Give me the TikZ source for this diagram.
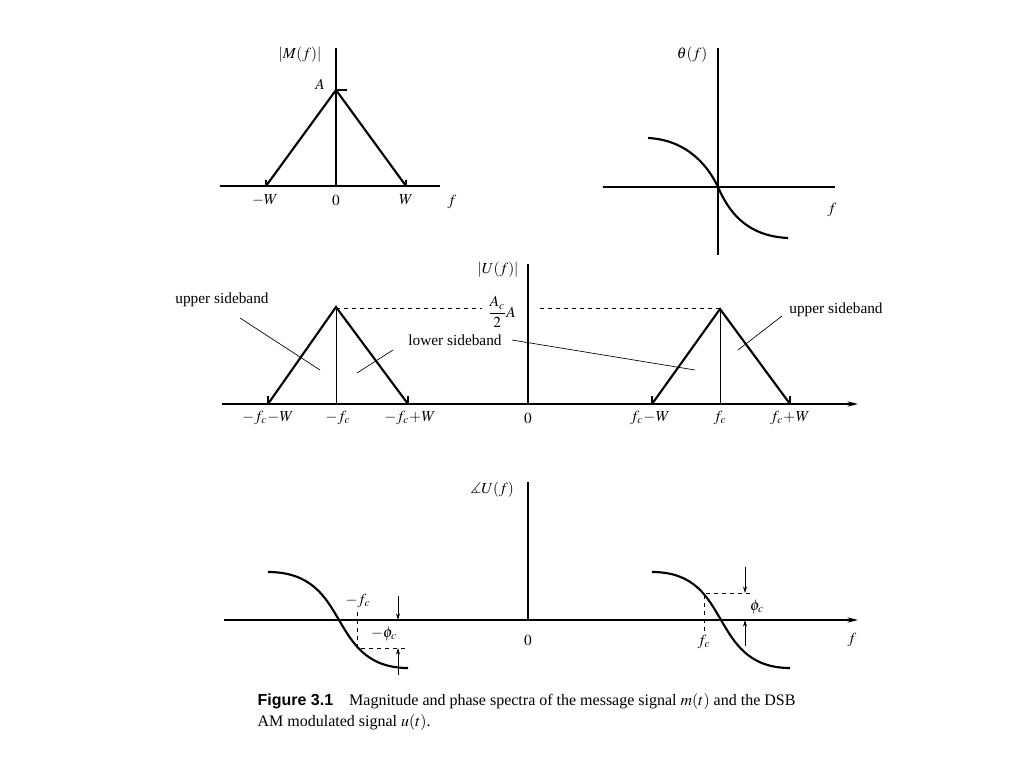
\documentclass[tikz,border=0pt]{standalone}
\usepackage{amsmath}
\usepackage{mathptmx}
\usepackage{amssymb}
\usepackage{fontspec}
\setmainfont{Liberation Serif}
\usetikzlibrary{arrows.meta}
\begin{document}
\begin{tikzpicture}[x=0.75pt,y=-0.75pt,
  ax/.style={line width=0.8pt},
  thick2/.style={line width=1.6pt},
  ds/.style={dashed,line width=0.6pt},
  ld/.style={line width=0.5pt},
  lb/.style={font=\fontsize{11.5}{13}\selectfont,inner sep=1pt},
  cp/.style={font=\fontsize{12}{14}\selectfont,inner sep=1pt},
  arr/.style={line width=0.6pt,-{Stealth[length=5pt,width=3pt]}}]
\useasboundingbox (0,0) rectangle (1024,768);
% top left
\draw[ax] (220,186) -- (440,186);
\draw[ax] (336,48) -- (336,186);
\draw[thick2] (266,186) -- (336,90) -- (406,186);
\draw[ax] (336,90) -- (347,90);
\draw[ax] (266,180) -- (266,186) (406,180) -- (406,186);
\node[lb] (M) at (300,55) {$|M(f)|$};
\node[lb] (A) at (320,84) {$A$};
\node[lb] at (265,200) {$-W$};
\node[lb] at (336,200) {$0$};
\node[lb] at (406,200) {$W$};
\node[lb] at (452,202) {$f$};
% top right
\draw[ax] (603,187) -- (835,187);
\draw[ax] (718,48) -- (718,255);
\draw[thick2] (648,138) .. controls (690,140) and (710,170) .. (718,187) .. controls (728,210) and (745,236) .. (788,238);
\node[lb] at (692,55) {$\theta(f)$};
\node[lb] at (832,210) {$f$};
% middle
\draw[ax,-{Stealth[length=8pt,width=4pt]}] (222,404) -- (858,404);
\draw[ax] (528,264) -- (528,404);
\draw[thick2] (268,404) -- (336,307) -- (408,404);
\draw[thick2] (652,404) -- (720,309) -- (790,404);
\draw[ld] (336,307) -- (336,404) (720,309) -- (720,404);
\draw[ax] (268,396)--(268,404) (408,396)--(408,404) (652,396)--(652,404) (790,396)--(790,404);
\draw[ds] (336,308) -- (482,308) (540,308) -- (720,308);
\node[lb] at (502,312) {$\dfrac{A_c}{2}A$};
\node[lb] at (498,270) {$|U(f)|$};
\node[lb] at (268,418) {$-f_c\!-\!W$};
\node[lb] at (338,418) {$-f_c$};
\node[lb] at (410,418) {$-f_c\!+\!W$};
\node[lb] at (528,418) {$0$};
\node[lb] at (650,418) {$f_c\!-\!W$};
\node[lb] at (720,418) {$f_c$};
\node[lb] at (790,418) {$f_c\!+\!W$};
\node[lb] (us1) at (222,300) {upper sideband};
\node[lb] (ls) at (455,340) {lower sideband};
\node[lb] (us2) at (836,310) {upper sideband};
\draw[ld] (240,318) -- (320,370);
\draw[ld] (357,373) -- (393,350);
\draw[ld] (512,340) -- (695,370);
\draw[ld] (782,316) -- (738,350);
% bottom
\draw[ax,-{Stealth[length=8pt,width=4pt]}] (224,620) -- (858,620);
\draw[ax] (528,482) -- (528,620);
\node[lb] at (492,490) {$\measuredangle U(f)$};
\draw[thick2] (268,572) .. controls (312,572) and (326,598) .. (339,620) .. controls (352,642) and (366,668) .. (408,668);
\draw[thick2] (652,572) .. controls (695,572) and (708,598) .. (721,620) .. controls (734,642) and (748,668) .. (790,668);
\draw[ds] (357,612) -- (357,648) -- (408,648);
\draw[ds] (704,631) -- (704,593) -- (752,593);
\draw[arr] (398,596) -- (398,620);
\draw[arr] (398,675) -- (398,648);
\draw[arr] (745,567) -- (745,593);
\draw[arr] (745,646) -- (745,620);
\node[lb] at (358,601) {$-f_c$};
\node[lb] at (384,634) {$-\phi_c$};
\node[lb] at (757,607) {$\phi_c$};
\node[lb] at (704,642) {$f_c$};
\node[lb] at (528,640) {$0$};
\node[lb] at (852,640) {$f$};
% caption
\node[cp,anchor=west] at (256,701) {\textbf{\fontspec{Liberation Sans}Figure 3.1}\quad Magnitude and phase spectra of the message signal $m(t)$ and the DSB};
\node[cp,anchor=west] at (256,722) {AM modulated signal $u(t)$.};
\end{tikzpicture}
\end{document}
